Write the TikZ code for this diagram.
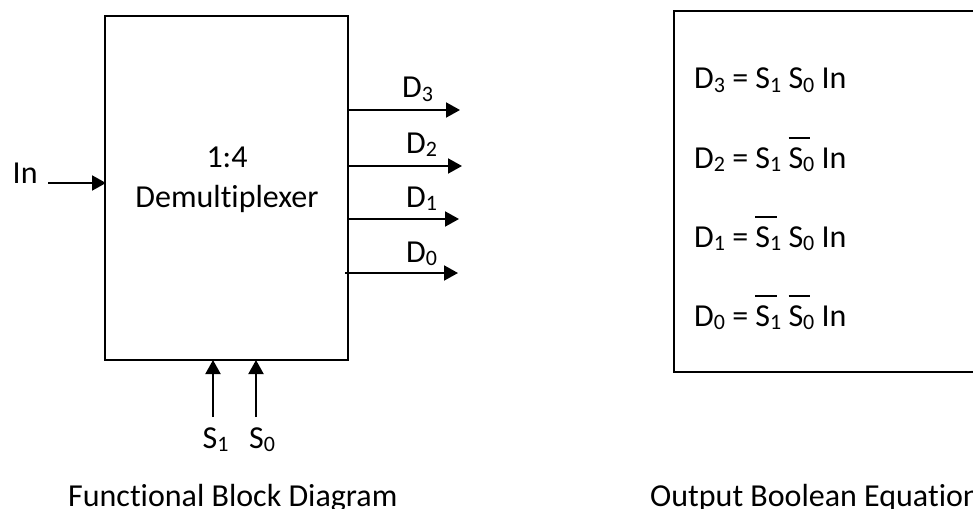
\documentclass[tikz,border=0pt]{standalone}
\usepackage{fontspec}
\setmainfont{Carlito}[Ligatures={NoCommon}]
\usetikzlibrary{arrows.meta}
\newcommand\sbs[1]{\raisebox{-0.11em}{\fontsize{22}{22}\selectfont #1}}
\newcommand\ovs[1]{\leavevmode\rlap{\rule[0.92em]{0.66em}{1.8pt}}S\sbs{#1}}
\begin{document}
\begin{tikzpicture}[x=1pt,y=-1pt,
  lbl/.style={inner sep=0pt,font=\fontsize{32}{36}\selectfont},
  blk/.style={draw,line width=2pt,inner sep=0pt},
  sig/.style={line width=2pt,-{Triangle[length=14pt,width=15pt]}}]
\useasboundingbox (0,0) rectangle (973,508);
% block
\node[blk,minimum width=243pt,minimum height=344pt] (demux) at (226.5,188) {};
\node[lbl,anchor=base] (t1) at (227,167) {1:4};
\node[lbl,anchor=base] (t2) at (227,207) {Demultiplexer};
% input
\node[lbl,anchor=base west] (inl) at (12.5,183) {In};
\coordinate (ins) at (48,183);
\coordinate (ine) at (106,183);
\draw[sig] (ins) -- (ine);
% outputs
\foreach \n/\y/\ya/\xl/\xs/\xe in {3/110/98/402/348/460,2/166/153/406/348/462,1/219/207/406/348/459,0/273/262/406/345/458}{
  \coordinate (o\n s) at (\xs,\y);
  \coordinate (o\n e) at (\xe,\y);
  \draw[sig] (o\n s) -- (o\n e);
  \node[lbl,anchor=base west] (d\n) at (\xl,\ya) {D\sbs{\n}};
}
% selects
\node[lbl,anchor=base west] (s1) at (202.5,448) {S\sbs{1}};
\node[lbl,anchor=base west] (s0) at (249,448) {S\sbs{0}};
\coordinate (s1s) at (213,417);
\coordinate (s1e) at (213,360);
\coordinate (s0s) at (256,417);
\coordinate (s0e) at (256,360);
\draw[sig] (s1s) -- (s1e);
\draw[sig] (s0s) -- (s0e);
% equations box
\node[blk,minimum width=320pt,minimum height=361pt,anchor=north west] (eqbox) at (673,10) {};
\node[lbl,anchor=base west] (e3) at (694,89) {D\sbs{3} = S\sbs{1} S\sbs{0} In};
\node[lbl,anchor=base west] (e2) at (694,168) {D\sbs{2} = S\sbs{1} \ovs{0} In};
\node[lbl,anchor=base west] (e1) at (694,247) {D\sbs{1} = \ovs{1} S\sbs{0} In};
\node[lbl,anchor=base west] (e0) at (694,326) {D\sbs{0} = \ovs{1} \ovs{0} In};
% captions
\node[lbl,anchor=base west] (c1) at (68,506) {Functional Block Diagram};
\node[lbl,anchor=base west] (c2) at (650,506) {Output Boolean Equation};
\end{tikzpicture}
\end{document}
